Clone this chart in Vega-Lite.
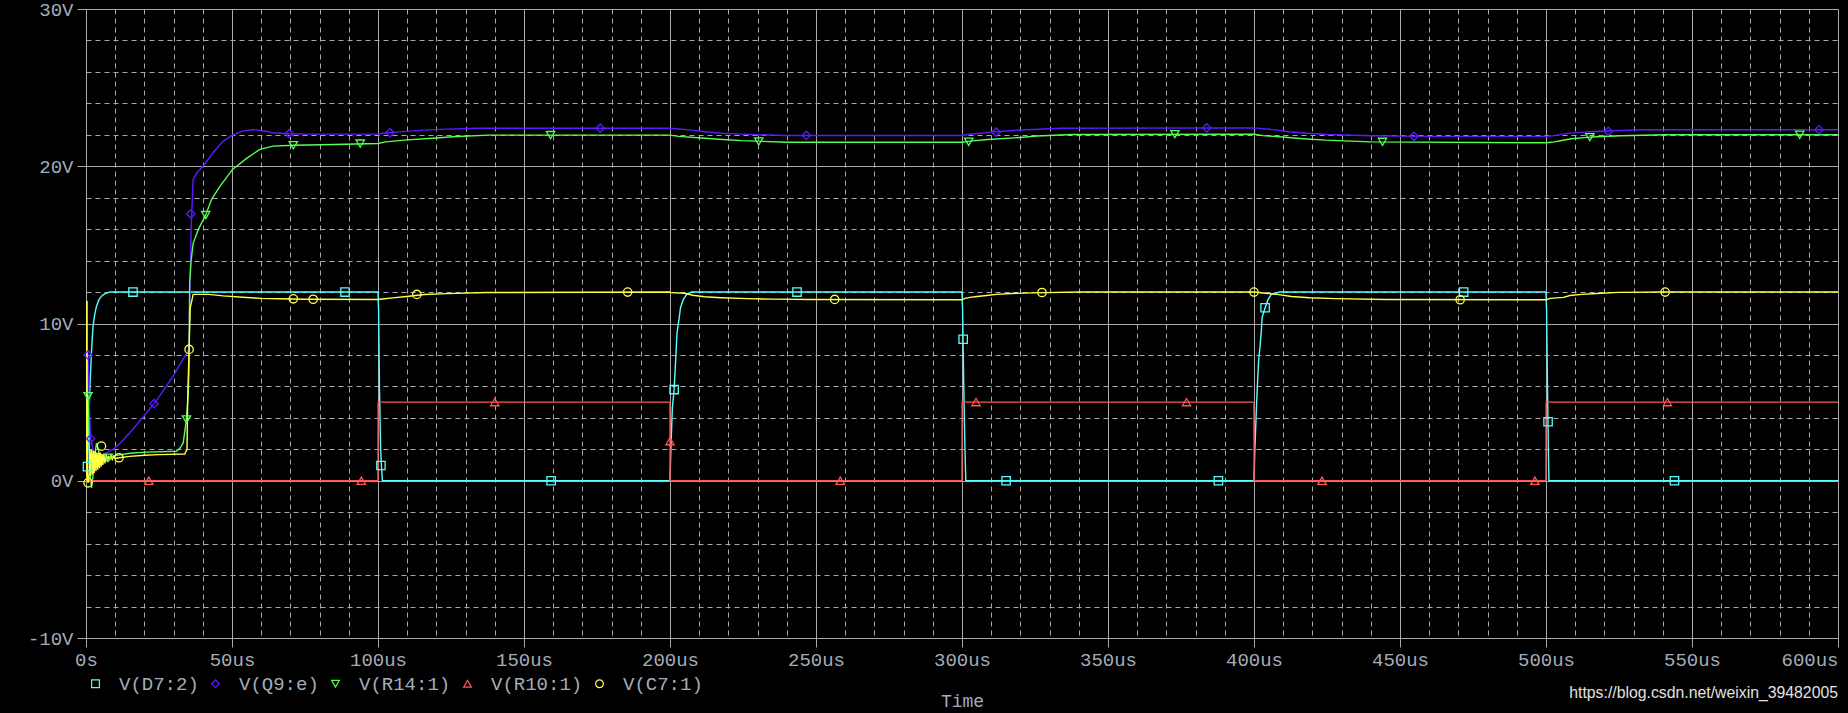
{
  "$schema": "https://vega.github.io/schema/vega-lite/v6.json",
  "width": 1752,
  "height": 629,
  "autosize": {"type": "none"},
  "padding": {"left": 86, "top": 9, "right": 10, "bottom": 75},
  "background": "#000000",
  "config": {"view": {"stroke": null}},
  "title": {"text": "https://blog.csdn.net/weixin_39482005", "orient": "bottom", "anchor": "end", "frame": "group", "font": "Liberation Sans", "fontSize": 15.8, "fontWeight": "normal", "color": "#e0e0e0", "offset": -24},
  "datasets": {
    "traces": [
      {"series":"V(D7:2)","t":0,"v":0},{"series":"V(D7:2)","t":0.2,"v":0.3},{"series":"V(D7:2)","t":0.5,"v":0.9},{"series":"V(D7:2)","t":0.9,"v":3.0},{"series":"V(D7:2)","t":1.3,"v":5.8},{"series":"V(D7:2)","t":1.9,"v":8.3},{"series":"V(D7:2)","t":2.4,"v":9.8},{"series":"V(D7:2)","t":3.0,"v":10.6},{"series":"V(D7:2)","t":3.6,"v":11.1},{"series":"V(D7:2)","t":4.4,"v":11.5},{"series":"V(D7:2)","t":5.3,"v":11.74},{"series":"V(D7:2)","t":6.5,"v":11.9},{"series":"V(D7:2)","t":8.2,"v":12.0},{"series":"V(D7:2)","t":100,"v":12.0},{"series":"V(D7:2)","t":100.2,"v":10.9},{"series":"V(D7:2)","t":100.5,"v":6.0},{"series":"V(D7:2)","t":100.9,"v":2.0},{"series":"V(D7:2)","t":101.2,"v":0.9},{"series":"V(D7:2)","t":101.5,"v":0},{"series":"V(D7:2)","t":200,"v":0},{"series":"V(D7:2)","t":200.3,"v":2.0},{"series":"V(D7:2)","t":200.8,"v":4.6},{"series":"V(D7:2)","t":201.4,"v":5.8},{"series":"V(D7:2)","t":201.9,"v":7.5},{"series":"V(D7:2)","t":202.4,"v":9.4},{"series":"V(D7:2)","t":203.1,"v":10.3},{"series":"V(D7:2)","t":203.6,"v":11.0},{"series":"V(D7:2)","t":204.5,"v":11.5},{"series":"V(D7:2)","t":205.7,"v":11.85},{"series":"V(D7:2)","t":207.4,"v":12.0},{"series":"V(D7:2)","t":300,"v":12.0},{"series":"V(D7:2)","t":300.2,"v":10.9},{"series":"V(D7:2)","t":300.6,"v":6.1},{"series":"V(D7:2)","t":301.0,"v":2.1},{"series":"V(D7:2)","t":301.3,"v":0},{"series":"V(D7:2)","t":400,"v":0},{"series":"V(D7:2)","t":400.3,"v":2.0},{"series":"V(D7:2)","t":400.85,"v":4.7},{"series":"V(D7:2)","t":401.2,"v":6.2},{"series":"V(D7:2)","t":401.6,"v":7.7},{"series":"V(D7:2)","t":402.1,"v":8.6},{"series":"V(D7:2)","t":402.5,"v":9.5},{"series":"V(D7:2)","t":402.8,"v":10.4},{"series":"V(D7:2)","t":403.8,"v":11.0},{"series":"V(D7:2)","t":404.8,"v":11.5},{"series":"V(D7:2)","t":405.9,"v":11.85},{"series":"V(D7:2)","t":408.8,"v":12.0},{"series":"V(D7:2)","t":500,"v":12.0},{"series":"V(D7:2)","t":500.2,"v":10.9},{"series":"V(D7:2)","t":500.5,"v":6.0},{"series":"V(D7:2)","t":500.8,"v":2.05},{"series":"V(D7:2)","t":501.0,"v":0},{"series":"V(D7:2)","t":600,"v":0},

      {"series":"V(Q9:e)","t":0,"v":0},{"series":"V(Q9:e)","t":0.3,"v":8.3},{"series":"V(Q9:e)","t":0.7,"v":8.0},{"series":"V(Q9:e)","t":1.0,"v":5.5},{"series":"V(Q9:e)","t":1.6,"v":2.67},{"series":"V(Q9:e)","t":2.5,"v":1.9},{"series":"V(Q9:e)","t":4,"v":1.6},{"series":"V(Q9:e)","t":6,"v":1.7},{"series":"V(Q9:e)","t":9.3,"v":2.0},{"series":"V(Q9:e)","t":12,"v":2.45},{"series":"V(Q9:e)","t":15,"v":3.05},{"series":"V(Q9:e)","t":18,"v":3.7},{"series":"V(Q9:e)","t":20,"v":4.15},{"series":"V(Q9:e)","t":23.3,"v":4.9},{"series":"V(Q9:e)","t":26,"v":5.6},{"series":"V(Q9:e)","t":29.8,"v":6.65},{"series":"V(Q9:e)","t":32.5,"v":7.5},{"series":"V(Q9:e)","t":35.2,"v":8.35},{"series":"V(Q9:e)","t":35.6,"v":12},{"series":"V(Q9:e)","t":36.0,"v":16},{"series":"V(Q9:e)","t":36.7,"v":19.16},{"series":"V(Q9:e)","t":38,"v":19.6},{"series":"V(Q9:e)","t":40.1,"v":20.0},{"series":"V(Q9:e)","t":43.5,"v":20.86},{"series":"V(Q9:e)","t":47,"v":21.6},{"series":"V(Q9:e)","t":50,"v":21.96},{"series":"V(Q9:e)","t":53.6,"v":22.23},{"series":"V(Q9:e)","t":57,"v":22.34},{"series":"V(Q9:e)","t":61.6,"v":22.23},{"series":"V(Q9:e)","t":63.8,"v":22.13},{"series":"V(Q9:e)","t":69.3,"v":22.07},{"series":"V(Q9:e)","t":75,"v":22.04},{"series":"V(Q9:e)","t":100,"v":22.04},{"series":"V(Q9:e)","t":101.5,"v":22.1},{"series":"V(Q9:e)","t":106,"v":22.17},{"series":"V(Q9:e)","t":109.8,"v":22.22},{"series":"V(Q9:e)","t":115.9,"v":22.3},{"series":"V(Q9:e)","t":123.5,"v":22.36},{"series":"V(Q9:e)","t":134.2,"v":22.42},{"series":"V(Q9:e)","t":200,"v":22.42},{"series":"V(Q9:e)","t":207.6,"v":22.3},{"series":"V(Q9:e)","t":212.2,"v":22.19},{"series":"V(Q9:e)","t":217.6,"v":22.1},{"series":"V(Q9:e)","t":224.5,"v":22.04},{"series":"V(Q9:e)","t":239,"v":21.96},{"series":"V(Q9:e)","t":300,"v":21.96},{"series":"V(Q9:e)","t":302,"v":22.02},{"series":"V(Q9:e)","t":306,"v":22.1},{"series":"V(Q9:e)","t":310,"v":22.17},{"series":"V(Q9:e)","t":316,"v":22.26},{"series":"V(Q9:e)","t":324,"v":22.34},{"series":"V(Q9:e)","t":334,"v":22.42},{"series":"V(Q9:e)","t":400,"v":22.44},{"series":"V(Q9:e)","t":408,"v":22.3},{"series":"V(Q9:e)","t":412,"v":22.19},{"series":"V(Q9:e)","t":418,"v":22.1},{"series":"V(Q9:e)","t":425,"v":22.02},{"series":"V(Q9:e)","t":440,"v":21.94},{"series":"V(Q9:e)","t":460,"v":21.9},{"series":"V(Q9:e)","t":500,"v":21.9},{"series":"V(Q9:e)","t":503,"v":21.95},{"series":"V(Q9:e)","t":507,"v":22.09},{"series":"V(Q9:e)","t":511,"v":22.14},{"series":"V(Q9:e)","t":515,"v":22.19},{"series":"V(Q9:e)","t":523,"v":22.26},{"series":"V(Q9:e)","t":532.7,"v":22.32},{"series":"V(Q9:e)","t":600,"v":22.32},

      {"series":"V(R14:1)","t":0,"v":0},{"series":"V(R14:1)","t":0.4,"v":5.5},{"series":"V(R14:1)","t":0.7,"v":5.38},{"series":"V(R14:1)","t":1.0,"v":3.0},{"series":"V(R14:1)","t":1.5,"v":0.3},{"series":"V(R14:1)","t":1.9,"v":-0.45},{"series":"V(R14:1)","t":2.4,"v":0.3},{"series":"V(R14:1)","t":3.0,"v":1.6},{"series":"V(R14:1)","t":3.6,"v":2.4},{"series":"V(R14:1)","t":4.2,"v":2.0},{"series":"V(R14:1)","t":5.0,"v":1.3},{"series":"V(R14:1)","t":5.8,"v":1.6},{"series":"V(R14:1)","t":7.6,"v":1.46},{"series":"V(R14:1)","t":10,"v":1.6},{"series":"V(R14:1)","t":15,"v":1.75},{"series":"V(R14:1)","t":20.7,"v":1.82},{"series":"V(R14:1)","t":31,"v":1.88},{"series":"V(R14:1)","t":32.3,"v":2.1},{"series":"V(R14:1)","t":33.3,"v":2.42},{"series":"V(R14:1)","t":34.4,"v":3.9},{"series":"V(R14:1)","t":35.0,"v":5.5},{"series":"V(R14:1)","t":35.3,"v":7.3},{"series":"V(R14:1)","t":35.5,"v":12.6},{"series":"V(R14:1)","t":36.0,"v":14.0},{"series":"V(R14:1)","t":36.7,"v":15.1},{"series":"V(R14:1)","t":38.5,"v":16.0},{"series":"V(R14:1)","t":41.0,"v":16.9},{"series":"V(R14:1)","t":43,"v":17.9},{"series":"V(R14:1)","t":45.8,"v":18.7},{"series":"V(R14:1)","t":50.2,"v":19.8},{"series":"V(R14:1)","t":55,"v":20.5},{"series":"V(R14:1)","t":59.5,"v":21.07},{"series":"V(R14:1)","t":64.1,"v":21.28},{"series":"V(R14:1)","t":70.9,"v":21.34},{"series":"V(R14:1)","t":85,"v":21.38},{"series":"V(R14:1)","t":100,"v":21.45},{"series":"V(R14:1)","t":102.7,"v":21.55},{"series":"V(R14:1)","t":108.9,"v":21.66},{"series":"V(R14:1)","t":119.9,"v":21.8},{"series":"V(R14:1)","t":125.6,"v":21.88},{"series":"V(R14:1)","t":137.8,"v":21.98},{"series":"V(R14:1)","t":200,"v":21.98},{"series":"V(R14:1)","t":203,"v":21.9},{"series":"V(R14:1)","t":210.7,"v":21.8},{"series":"V(R14:1)","t":216.8,"v":21.72},{"series":"V(R14:1)","t":224.5,"v":21.63},{"series":"V(R14:1)","t":240,"v":21.53},{"series":"V(R14:1)","t":300,"v":21.53},{"series":"V(R14:1)","t":302.7,"v":21.6},{"series":"V(R14:1)","t":308.9,"v":21.7},{"series":"V(R14:1)","t":319.9,"v":21.83},{"series":"V(R14:1)","t":325.6,"v":21.92},{"series":"V(R14:1)","t":337.8,"v":22.02},{"series":"V(R14:1)","t":400,"v":22.04},{"series":"V(R14:1)","t":403,"v":21.95},{"series":"V(R14:1)","t":410.7,"v":21.84},{"series":"V(R14:1)","t":416.8,"v":21.75},{"series":"V(R14:1)","t":424.5,"v":21.66},{"series":"V(R14:1)","t":440,"v":21.55},{"series":"V(R14:1)","t":500,"v":21.49},{"series":"V(R14:1)","t":503,"v":21.55},{"series":"V(R14:1)","t":505,"v":21.62},{"series":"V(R14:1)","t":508.7,"v":21.75},{"series":"V(R14:1)","t":513,"v":21.82},{"series":"V(R14:1)","t":517.3,"v":21.88},{"series":"V(R14:1)","t":525.8,"v":21.94},{"series":"V(R14:1)","t":540.6,"v":22.0},{"series":"V(R14:1)","t":600,"v":22.0},

      {"series":"V(R10:1)","t":0,"v":5.0},{"series":"V(R10:1)","t":0.15,"v":0},{"series":"V(R10:1)","t":100,"v":0},{"series":"V(R10:1)","t":100.05,"v":5.0},{"series":"V(R10:1)","t":200,"v":5.0},{"series":"V(R10:1)","t":200.05,"v":0},{"series":"V(R10:1)","t":300,"v":0},{"series":"V(R10:1)","t":300.05,"v":5.0},{"series":"V(R10:1)","t":400,"v":5.0},{"series":"V(R10:1)","t":400.05,"v":0},{"series":"V(R10:1)","t":500,"v":0},{"series":"V(R10:1)","t":500.05,"v":5.0},{"series":"V(R10:1)","t":600,"v":5.0},

      {"series":"V(C7:1)","t":0,"v":0},{"series":"V(C7:1)","t":0.05,"v":11.4},{"series":"V(C7:1)","t":0.35,"v":11.4},{"series":"V(C7:1)","t":0.45,"v":0.5},{"series":"V(C7:1)","t":0.7,"v":-0.13},{"series":"V(C7:1)","t":1.0,"v":0.2},{"series":"V(C7:1)","t":1.3,"v":2.0},{"series":"V(C7:1)","t":1.6,"v":0.3},{"series":"V(C7:1)","t":1.9,"v":2.0},{"series":"V(C7:1)","t":2.2,"v":0.4},{"series":"V(C7:1)","t":2.5,"v":1.9},{"series":"V(C7:1)","t":2.8,"v":0.5},{"series":"V(C7:1)","t":3.1,"v":1.9},{"series":"V(C7:1)","t":3.4,"v":0.6},{"series":"V(C7:1)","t":3.7,"v":1.8},{"series":"V(C7:1)","t":4.0,"v":0.7},{"series":"V(C7:1)","t":4.3,"v":1.8},{"series":"V(C7:1)","t":4.6,"v":0.8},{"series":"V(C7:1)","t":4.9,"v":1.8},{"series":"V(C7:1)","t":5.2,"v":0.9},{"series":"V(C7:1)","t":5.5,"v":1.7},{"series":"V(C7:1)","t":5.8,"v":1.0},{"series":"V(C7:1)","t":6.1,"v":1.7},{"series":"V(C7:1)","t":6.5,"v":1.1},{"series":"V(C7:1)","t":6.9,"v":1.7},{"series":"V(C7:1)","t":7.3,"v":1.2},{"series":"V(C7:1)","t":7.7,"v":1.6},{"series":"V(C7:1)","t":8.1,"v":1.3},{"series":"V(C7:1)","t":8.5,"v":1.6},{"series":"V(C7:1)","t":9.0,"v":1.35},{"series":"V(C7:1)","t":9.5,"v":1.55},{"series":"V(C7:1)","t":10,"v":1.42},{"series":"V(C7:1)","t":11.3,"v":1.46},{"series":"V(C7:1)","t":15,"v":1.55},{"series":"V(C7:1)","t":20,"v":1.62},{"series":"V(C7:1)","t":25,"v":1.66},{"series":"V(C7:1)","t":33.8,"v":1.7},{"series":"V(C7:1)","t":34.6,"v":2.0},{"series":"V(C7:1)","t":34.8,"v":5.0},{"series":"V(C7:1)","t":35.3,"v":8.35},{"series":"V(C7:1)","t":35.7,"v":11.0},{"series":"V(C7:1)","t":36.7,"v":11.85},{"series":"V(C7:1)","t":42,"v":11.85},{"series":"V(C7:1)","t":47,"v":11.76},{"series":"V(C7:1)","t":55,"v":11.65},{"series":"V(C7:1)","t":60,"v":11.6},{"series":"V(C7:1)","t":66,"v":11.57},{"series":"V(C7:1)","t":75,"v":11.54},{"series":"V(C7:1)","t":100,"v":11.53},{"series":"V(C7:1)","t":101.5,"v":11.56},{"series":"V(C7:1)","t":105,"v":11.63},{"series":"V(C7:1)","t":109.8,"v":11.72},{"series":"V(C7:1)","t":115.9,"v":11.84},{"series":"V(C7:1)","t":123.5,"v":11.9},{"series":"V(C7:1)","t":137.3,"v":11.97},{"series":"V(C7:1)","t":200,"v":12.0},{"series":"V(C7:1)","t":200.3,"v":11.96},{"series":"V(C7:1)","t":205,"v":11.92},{"series":"V(C7:1)","t":207.8,"v":11.8},{"series":"V(C7:1)","t":211.8,"v":11.7},{"series":"V(C7:1)","t":217.5,"v":11.64},{"series":"V(C7:1)","t":226.6,"v":11.58},{"series":"V(C7:1)","t":235,"v":11.55},{"series":"V(C7:1)","t":248,"v":11.53},{"series":"V(C7:1)","t":300,"v":11.51},{"series":"V(C7:1)","t":301,"v":11.6},{"series":"V(C7:1)","t":302.7,"v":11.66},{"series":"V(C7:1)","t":305.2,"v":11.72},{"series":"V(C7:1)","t":308.4,"v":11.78},{"series":"V(C7:1)","t":311.8,"v":11.85},{"series":"V(C7:1)","t":317,"v":11.91},{"series":"V(C7:1)","t":324.4,"v":11.95},{"series":"V(C7:1)","t":340,"v":12.0},{"series":"V(C7:1)","t":400,"v":12.0},{"series":"V(C7:1)","t":404,"v":11.92},{"series":"V(C7:1)","t":408,"v":11.85},{"series":"V(C7:1)","t":412.8,"v":11.72},{"series":"V(C7:1)","t":419,"v":11.64},{"series":"V(C7:1)","t":428,"v":11.58},{"series":"V(C7:1)","t":445,"v":11.53},{"series":"V(C7:1)","t":500,"v":11.51},{"series":"V(C7:1)","t":501.5,"v":11.6},{"series":"V(C7:1)","t":506,"v":11.66},{"series":"V(C7:1)","t":508.2,"v":11.78},{"series":"V(C7:1)","t":512.2,"v":11.85},{"series":"V(C7:1)","t":517.4,"v":11.91},{"series":"V(C7:1)","t":524.8,"v":11.98},{"series":"V(C7:1)","t":540,"v":12.0},{"series":"V(C7:1)","t":600,"v":12.0}
    ],
    "markers": [
      {"series":"V(D7:2)","t":0.5,"v":0.9},{"series":"V(D7:2)","t":16.1,"v":12.0},{"series":"V(D7:2)","t":88.7,"v":12.0},{"series":"V(D7:2)","t":101,"v":0.97},{"series":"V(D7:2)","t":159.3,"v":0},{"series":"V(D7:2)","t":201.4,"v":5.8},{"series":"V(D7:2)","t":243.5,"v":12.0},{"series":"V(D7:2)","t":300.4,"v":9.0},{"series":"V(D7:2)","t":315.1,"v":0},{"series":"V(D7:2)","t":387.8,"v":0},{"series":"V(D7:2)","t":403.8,"v":11.0},{"series":"V(D7:2)","t":471.8,"v":12.0},{"series":"V(D7:2)","t":500.7,"v":3.75},{"series":"V(D7:2)","t":544,"v":0},
      {"series":"V(Q9:e)","t":0.7,"v":8.0},{"series":"V(Q9:e)","t":1.6,"v":2.67},{"series":"V(Q9:e)","t":23.3,"v":4.9},{"series":"V(Q9:e)","t":35.9,"v":16.97},{"series":"V(Q9:e)","t":69.6,"v":22.07},{"series":"V(Q9:e)","t":104.1,"v":22.13},{"series":"V(Q9:e)","t":176.1,"v":22.42},{"series":"V(Q9:e)","t":246.7,"v":21.96},{"series":"V(Q9:e)","t":311.7,"v":22.17},{"series":"V(Q9:e)","t":383.8,"v":22.44},{"series":"V(Q9:e)","t":454.8,"v":21.9},{"series":"V(Q9:e)","t":521.3,"v":22.22},{"series":"V(Q9:e)","t":593.5,"v":22.32},
      {"series":"V(R14:1)","t":0.7,"v":5.38},{"series":"V(R14:1)","t":7.6,"v":1.46},{"series":"V(R14:1)","t":34.4,"v":3.9},{"series":"V(R14:1)","t":41.0,"v":16.9},{"series":"V(R14:1)","t":71,"v":21.34},{"series":"V(R14:1)","t":93.9,"v":21.44},{"series":"V(R14:1)","t":159.1,"v":21.98},{"series":"V(R14:1)","t":230.4,"v":21.58},{"series":"V(R14:1)","t":302.3,"v":21.56},{"series":"V(R14:1)","t":372.9,"v":22.04},{"series":"V(R14:1)","t":444,"v":21.55},{"series":"V(R14:1)","t":515,"v":21.85},{"series":"V(R14:1)","t":586.9,"v":22.0},
      {"series":"V(R10:1)","t":21.5,"v":0},{"series":"V(R10:1)","t":94.3,"v":0},{"series":"V(R10:1)","t":140,"v":5.0},{"series":"V(R10:1)","t":200,"v":2.52},{"series":"V(R10:1)","t":258.3,"v":0},{"series":"V(R10:1)","t":304.8,"v":5.0},{"series":"V(R10:1)","t":376.9,"v":5.0},{"series":"V(R10:1)","t":423.3,"v":0},{"series":"V(R10:1)","t":496.2,"v":0},{"series":"V(R10:1)","t":541.6,"v":5.0},
      {"series":"V(C7:1)","t":0.7,"v":-0.13},{"series":"V(C7:1)","t":2.7,"v":1.23},{"series":"V(C7:1)","t":5.3,"v":2.2},{"series":"V(C7:1)","t":11.3,"v":1.46},{"series":"V(C7:1)","t":35.3,"v":8.35},{"series":"V(C7:1)","t":71,"v":11.57},{"series":"V(C7:1)","t":77.8,"v":11.54},{"series":"V(C7:1)","t":113.3,"v":11.85},{"series":"V(C7:1)","t":185.5,"v":12.0},{"series":"V(C7:1)","t":256.4,"v":11.53},{"series":"V(C7:1)","t":327.4,"v":11.97},{"series":"V(C7:1)","t":400,"v":12.0},{"series":"V(C7:1)","t":470.6,"v":11.51},{"series":"V(C7:1)","t":540.8,"v":12.0}
    ]
  },
  "encoding": {
    "x": {
      "field": "t", "type": "quantitative",
      "scale": {"domain": [0, 600], "nice": false, "zero": false},
      "axis": {
        "values": [0,10,20,30,40,50,60,70,80,90,100,110,120,130,140,150,160,170,180,190,200,210,220,230,240,250,260,270,280,290,300,310,320,330,340,350,360,370,380,390,400,410,420,430,440,450,460,470,480,490,500,510,520,530,540,550,560,570,580,590,600],
        "labelExpr": "datum.value % 50 !== 0 ? '' : (datum.value === 0 ? '0s' : datum.value + 'us')",
        "labelOverlap": false, "labelFlush": false, "labelBound": false,
        "labelAlign": {"condition": {"test": "datum.value === 600", "value": "right"}, "value": "center"},
        "labelFont": "Liberation Mono", "labelFontSize": 19, "labelColor": "#a3adba", "labelPadding": 3,
        "grid": true, "gridColor": "#a9a9a9", "gridWidth": 1,
        "gridDash": {"condition": {"test": "datum.value % 50 !== 0", "value": [5, 4]}, "value": []},
        "tickSize": 9, "tickColor": "#a9a9a9",
        "tickOpacity": {"condition": {"test": "datum.value % 50 !== 0", "value": 0}, "value": 1},
        "domainColor": "#a9a9a9",
        "title": "Time", "titleFont": "Liberation Mono", "titleFontSize": 18, "titleFontWeight": "normal", "titleColor": "#a3adba", "titlePadding": 23
      }
    },
    "y": {
      "field": "v", "type": "quantitative",
      "scale": {"domain": [-10, 30], "nice": false, "zero": false},
      "axis": {
        "values": [-10,-8,-6,-4,-2,0,2,4,6,8,10,12,14,16,18,20,22,24,26,28,30],
        "labelExpr": "datum.value % 10 !== 0 ? '' : datum.value + 'V'",
        "labelOverlap": false, "labelFlush": false, "labelBound": false,
        "labelFont": "Liberation Mono", "labelFontSize": 19, "labelColor": "#a3adba", "labelPadding": 4,
        "grid": true, "gridColor": "#a9a9a9", "gridWidth": 1,
        "gridDash": {"condition": {"test": "datum.value % 10 !== 0", "value": [5, 4]}, "value": []},
        "tickSize": 9, "tickColor": "#a9a9a9",
        "tickOpacity": {"condition": {"test": "datum.value % 10 !== 0", "value": 0}, "value": 1},
        "domainColor": "#a9a9a9",
        "title": null
      }
    }
  },
  "layer": [
    {
      "data": {"name": "traces"},
      "mark": {"type": "line", "strokeWidth": 1.4, "interpolate": "linear", "clip": true},
      "encoding": {
        "stroke": {"field": "series", "type": "nominal",
          "scale": {"domain": ["V(C7:1)", "V(D7:2)", "V(Q9:e)", "V(R10:1)", "V(R14:1)"], "range": ["#ffff44", "#55ffff", "#5a1cff", "#ff5555", "#55ff55"]},
          "legend": null},
        "detail": {"field": "series"}
      }
    },
    {
      "data": {"name": "markers"},
      "mark": {"type": "point", "filled": false, "size": 70, "strokeWidth": 1.3, "opacity": 1},
      "encoding": {
        "color": {"field": "series", "type": "nominal",
          "scale": {"domain": ["V(D7:2)", "V(Q9:e)", "V(R14:1)", "V(R10:1)", "V(C7:1)"], "range": ["#55ffff", "#5a1cff", "#55ff55", "#ff5555", "#ffff44"]},
          "legend": {"orient": "none", "legendX": 0, "legendY": 665, "direction": "horizontal", "columns": 5, "title": null, "padding": 0, "labelFont": "Liberation Mono", "labelFontSize": 19, "labelColor": "#a3adba", "symbolSize": 60, "symbolStrokeWidth": 1.2, "labelOffset": 14, "columnPadding": 7}},
        "shape": {"field": "series", "type": "nominal",
          "scale": {"domain": ["V(D7:2)", "V(Q9:e)", "V(R14:1)", "V(R10:1)", "V(C7:1)"], "range": ["square", "diamond", "triangle-down", "triangle-up", "circle"]},
          "legend": {"orient": "none", "legendX": 0, "legendY": 665, "direction": "horizontal", "columns": 5, "title": null, "padding": 0, "labelFont": "Liberation Mono", "labelFontSize": 19, "labelColor": "#a3adba", "symbolSize": 60, "symbolStrokeWidth": 1.2, "labelOffset": 14, "columnPadding": 7}}
      }
    }
  ]
}
